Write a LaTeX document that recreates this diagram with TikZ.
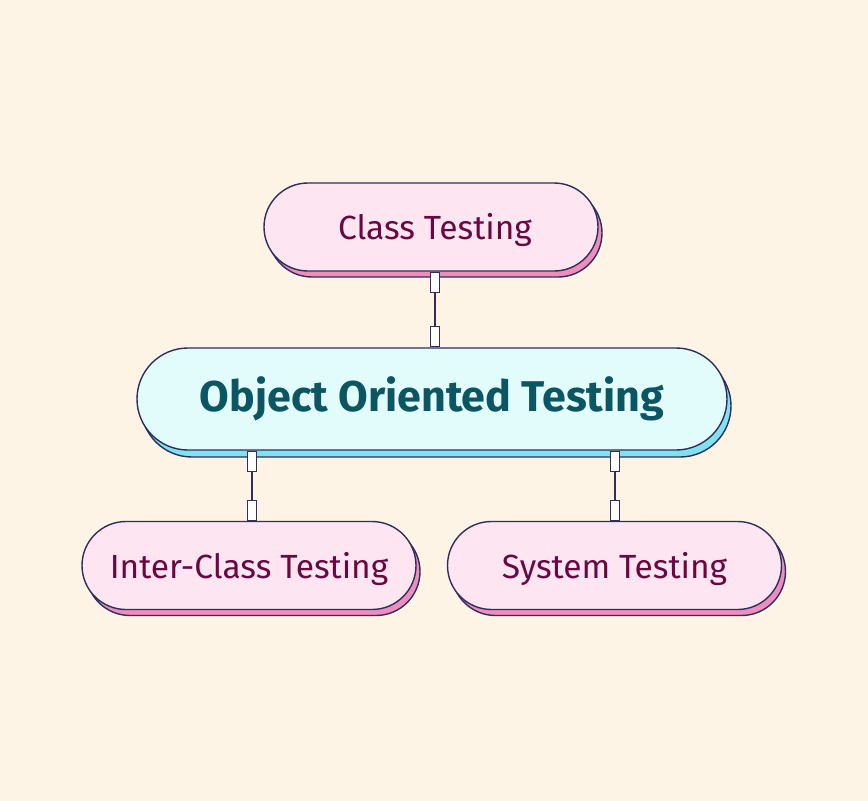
\documentclass[tikz,border=0pt]{standalone}
\usepackage{fontspec}
\setmainfont{Fira Sans}
\usetikzlibrary{shadows,calc}
\definecolor{bg}{HTML}{FEF4E6}
\definecolor{navy}{HTML}{2E2F5E}
\definecolor{pinkfill}{HTML}{FDE5F1}
\definecolor{pinkshadow}{HTML}{EF8DBD}
\definecolor{pinktext}{HTML}{6A0741}
\definecolor{cyanfill}{HTML}{E2FCFB}
\definecolor{cyanshadow}{HTML}{80E2EE}
\definecolor{tealtext}{HTML}{0B5662}
\newcommand{\lowtext}[1]{\raisebox{0pt}[\dimexpr\height+6pt][\depth]{#1}}
\tikzset{
  pill/.style={rectangle, draw=navy, line width=1.4pt, inner sep=0pt},
  pinkpill/.style={pill, fill=pinkfill, text=pinktext,
    copy shadow={shadow xshift=4pt, shadow yshift=-6pt, fill=pinkshadow, draw=navy},
    minimum width=334pt, minimum height=88pt, rounded corners=44pt,
    font=\fontsize{33.5}{38}\selectfont},
  mainpill/.style={pill, fill=cyanfill, text=tealtext,
    copy shadow={shadow xshift=4pt, shadow yshift=-7pt, fill=cyanshadow, draw=navy},
    minimum width=590pt, minimum height=102pt, rounded corners=51pt,
    font=\fontsize{43}{50}\selectfont\bfseries},
  tab/.style={rectangle, draw=navy, fill=white, line width=1.3pt,
    minimum width=9pt, minimum height=20pt, inner sep=0pt},
  link/.style={draw=navy, line width=1.4pt}
}
\begin{document}
\begin{tikzpicture}[x=1pt,y=-1pt]
\fill[bg] (0,0) rectangle (868,801);
\useasboundingbox (0,0) rectangle (868,801);
\node[pinkpill] (cls) at (431,227) {\hspace*{8pt}\lowtext{Class Testing}};
\node[mainpill] (oot) at (432,399) {Object Oriented Testing};
\node[pinkpill] (inter) at (249,565.5) {\lowtext{Inter-Class Testing}};
\node[pinkpill] (sys) at (614.5,565.5) {\lowtext{System Testing}};
% connectors
\coordinate (a1) at ($(cls.south)+(4,0)$);
\coordinate (a2) at ($(oot.north)+(3,0)$);
\coordinate (b1) at ($(oot.south)+(-180,0)$);
\coordinate (b2) at (b1 |- inter.north);
\coordinate (c1) at ($(oot.south)+(183,0)$);
\coordinate (c2) at (c1 |- sys.north);
\draw[link] (a1) -- (a1 |- a2);
\draw[link] (b1) -- (b2);
\draw[link] (c1) -- (c2);
\node[tab, anchor=north] (ta1) at (a1) {};
\node[tab, anchor=south] (ta2) at (a1 |- a2) {};
\node[tab, anchor=north] (tb1) at (b1) {};
\node[tab, anchor=south] (tb2) at (b2) {};
\node[tab, anchor=north] (tc1) at (c1) {};
\node[tab, anchor=south] (tc2) at (c2) {};
\end{tikzpicture}
\end{document}
